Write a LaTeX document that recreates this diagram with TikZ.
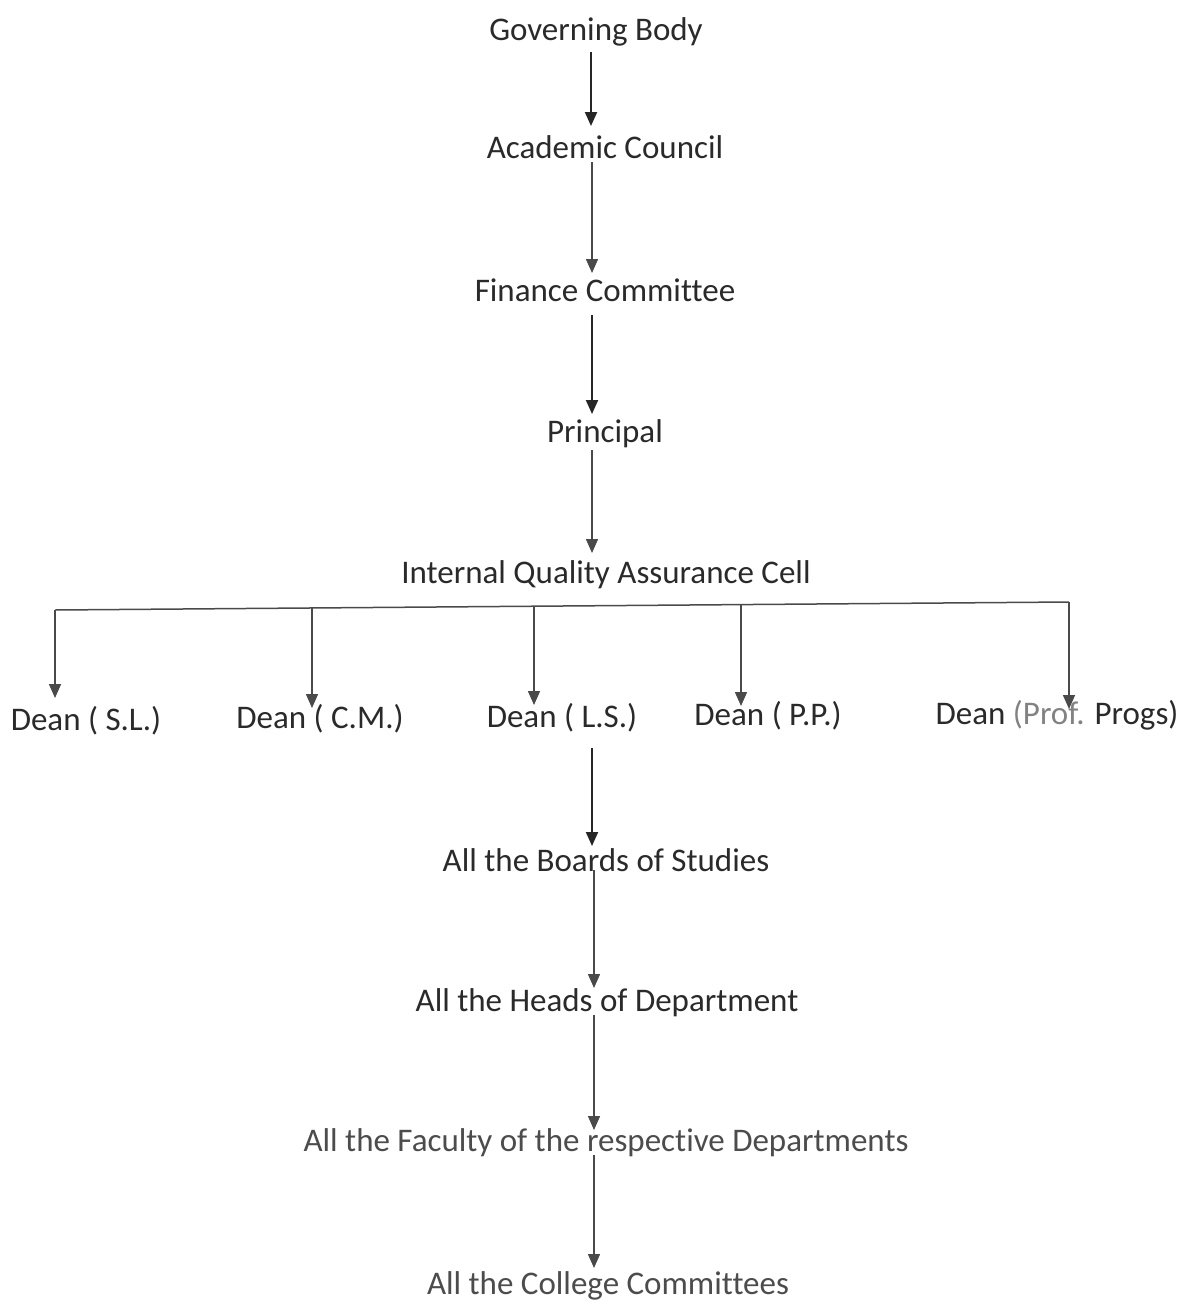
\documentclass[tikz,border=0pt]{standalone}
\usepackage{fontspec}
\setmainfont[RawFeature={-liga;-clig;-dlig;-calt}]{Carlito}
\usetikzlibrary{arrows.meta}
\definecolor{txt}{HTML}{2A2A2A}
\definecolor{txtl}{HTML}{4C4C4C}
\definecolor{darkline}{HTML}{262626}
\definecolor{greyline}{HTML}{4A4A4A}
\begin{document}
\begin{tikzpicture}[x=1pt,y=-1pt,
  lbl/.style={inner sep=0pt,anchor=center,text=txt,font=\fontsize{33}{40}\selectfont},
  lbll/.style={lbl,text=txtl},
  arrdark/.style={draw=darkline,line width=2pt,-{Triangle[length=14pt,width=12pt]}},
  arrgrey/.style={draw=greyline,line width=1.5pt,-{Triangle[length=14pt,width=12pt]}},
  hline/.style={draw=greyline,line width=1.5pt}]
\useasboundingbox[fill=white] (0,0) rectangle (1183,1301);
% nodes
\node[lbl] (gb) at (596,32) {Governing Body};
\node[lbl] (ac) at (605,147) {Academic Council};
\node[lbl] (fc) at (605,290) {Finance Committee};
\node[lbl] (pr) at (605,434) {Principal};
\node[lbl] (iq) at (606,575) {Internal Quality Assurance Cell};
\node[lbl] (dsl) at (86,721) {Dean ( S.L.)};
\node[lbl] (dcm) at (320,719) {Dean ( C.M.)};
\node[lbl] (dls) at (562,718) {Dean ( L.S.)};
\node[lbl] (dpp) at (768,716) {Dean ( P.P.)};
\node[lbl] (dpr) at (1057,715) {Dean \textcolor{txtl!70}{(Prof.} Progs)};
\node[lbl] (bos) at (606,860) {All the Boards of Studies};
\node[lbl] (hod) at (607,1003) {All the Heads of Department};
\node[lbll] (fac) at (606,1143) {All the Faculty of the respective Departments};
\node[lbll] (cc) at (608,1286) {All the College Committees};
% connector end points
\coordinate (gbS) at (591,52);   \coordinate (acN) at (591,126);
\coordinate (acS) at (592,162);  \coordinate (fcN) at (592,273);
\coordinate (fcS) at (592,315);  \coordinate (prN) at (592,414);
\coordinate (prS) at (592,450);  \coordinate (iqN) at (592,553);
\coordinate (bL) at (55,610);    \coordinate (bR) at (1069,602);
\coordinate (b1) at (55,610);    \coordinate (dslN) at (55,698);
\coordinate (b2) at (312,608);   \coordinate (dcmN) at (312,708);
\coordinate (b3) at (534,606);   \coordinate (dlsN) at (534,705);
\coordinate (b4) at (741,604);   \coordinate (dppN) at (741,706);
\coordinate (b5) at (1069,602);  \coordinate (dprN) at (1069,709);
\coordinate (dlsS) at (592,748); \coordinate (bosN) at (592,846);
\coordinate (bosS) at (594,870); \coordinate (hodN) at (594,988);
\coordinate (hodS) at (594,1015);\coordinate (facN) at (594,1130);
\coordinate (facS) at (594,1155);\coordinate (ccN) at (594,1268);
% connectors
\draw[arrdark] (gbS) -- (acN);
\draw[arrgrey] (acS) -- (fcN);
\draw[arrdark] (fcS) -- (prN);
\draw[arrgrey] (prS) -- (iqN);
\draw[hline] (bL) -- (bR);
\draw[arrgrey] (b1) -- (dslN);
\draw[arrgrey] (b2) -- (dcmN);
\draw[arrgrey] (b3) -- (dlsN);
\draw[arrgrey] (b4) -- (dppN);
\draw[arrgrey] (b5) -- (dprN);
\draw[arrdark] (dlsS) -- (bosN);
\draw[arrgrey] (bosS) -- (hodN);
\draw[arrgrey] (hodS) -- (facN);
\draw[arrgrey] (facS) -- (ccN);
\end{tikzpicture}
\end{document}
